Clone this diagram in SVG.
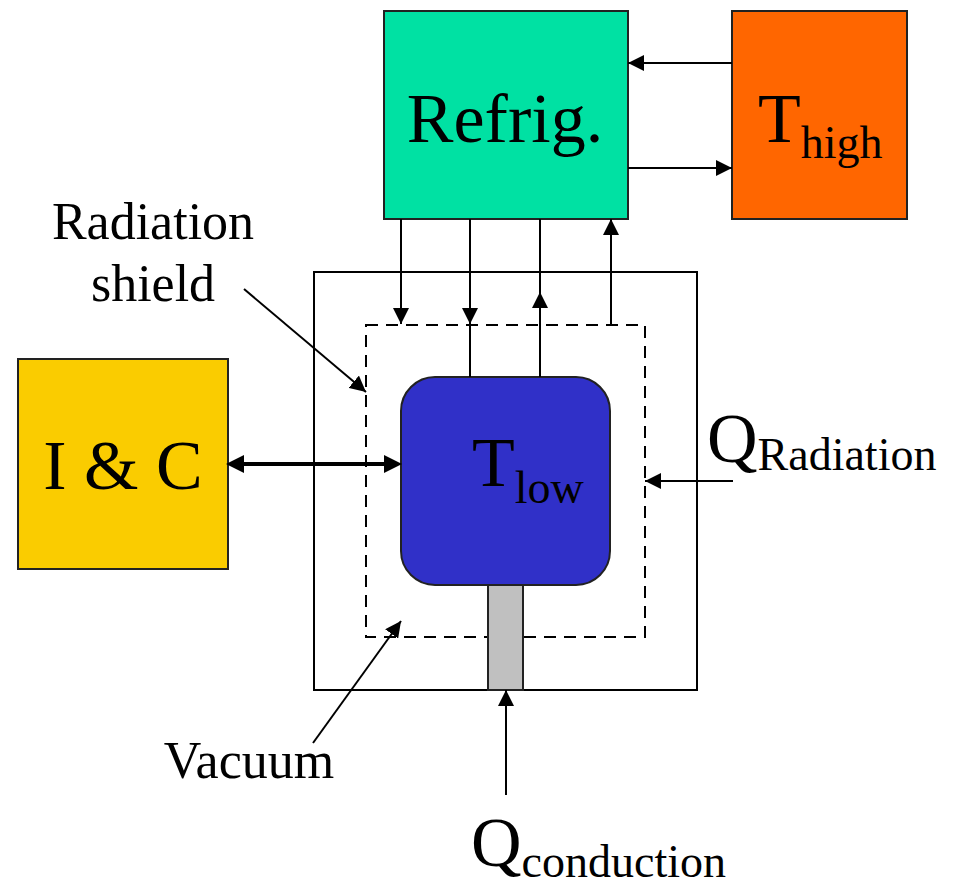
<svg xmlns="http://www.w3.org/2000/svg" width="957" height="889" viewBox="0 0 957 889">
<defs>
<style>
.box{stroke:#222;stroke-width:2}
.ln{stroke:#000;stroke-width:2;fill:none}
.big{font-family:"Liberation Serif","Times New Roman",serif;font-size:70px;fill:#000}
.lbl{font-family:"Liberation Serif","Times New Roman",serif;font-size:52px;fill:#000}
.sub{font-size:46px}
</style>
<marker id="ah" viewBox="0 0 16 16" refX="16" refY="8" markerWidth="16" markerHeight="16" markerUnits="userSpaceOnUse" orient="auto-start-reverse"><path d="M0,0 L16,8 L0,16 z" fill="#000"/></marker>
<marker id="ahb" viewBox="0 0 18 18" refX="8" refY="9" markerWidth="18" markerHeight="18" markerUnits="userSpaceOnUse" orient="auto-start-reverse"><path d="M0,0 L18,9 L0,18 z" fill="#000"/></marker>
</defs>
<rect width="957" height="889" fill="#fff"/>

<g id="vacuum-vessel">
<rect x="314" y="272" width="383" height="418" fill="none" stroke="#000" stroke-width="2"/>
</g>
<g id="radiation-shield">
<rect x="366" y="325" width="279" height="312" fill="none" stroke="#000" stroke-width="2" stroke-dasharray="12,8"/>
</g>

<g id="refrig">
<rect class="box" x="384" y="11" width="244" height="208" fill="#00E1A3"/>
<text class="big" x="505" y="142" text-anchor="middle">Refrig.</text>
</g>
<g id="thigh">
<rect class="box" x="732" y="11" width="175" height="208" fill="#FF6600"/>
<text class="big" x="758" y="142">T<tspan class="sub" dy="16">high</tspan></text>
</g>
<g id="ic">
<rect class="box" x="18" y="359" width="210" height="210" fill="#FACC00"/>
<text class="big" x="123" y="489" text-anchor="middle">I &amp; C</text>
</g>
<g id="tlow">
<rect x="488" y="584" width="35" height="106" fill="#C0C0C0" stroke="#222" stroke-width="2"/>
<rect class="box" x="401" y="377" width="209" height="208" rx="34" ry="34" fill="#3030C8"/>
<text class="big" x="472" y="486">T<tspan class="sub" dy="17">low</tspan></text>
</g>

<g id="connectors">
<line class="ln" x1="732" y1="63" x2="628" y2="63" marker-end="url(#ah)"/>
<line class="ln" x1="628" y1="168" x2="732" y2="168" marker-end="url(#ah)"/>
<line class="ln" x1="401" y1="219" x2="401" y2="324" marker-end="url(#ah)"/>
<line class="ln" x1="470" y1="219" x2="470" y2="324" marker-end="url(#ah)"/>
<line class="ln" x1="470" y1="320" x2="470" y2="377"/>
<line class="ln" x1="540" y1="377" x2="540" y2="292" marker-end="url(#ah)"/>
<line class="ln" x1="540" y1="296" x2="540" y2="219"/>
<line class="ln" x1="611" y1="325" x2="611" y2="219" marker-end="url(#ah)"/>
<line x1="236" y1="464" x2="392" y2="464" stroke="#000" stroke-width="4" marker-start="url(#ahb)" marker-end="url(#ahb)"/>
<line class="ln" x1="733" y1="481" x2="645" y2="481" marker-end="url(#ah)"/>
<line class="ln" x1="506" y1="795" x2="506" y2="690" marker-end="url(#ah)"/>
<line class="ln" x1="244" y1="289" x2="366" y2="392" marker-end="url(#ah)"/>
<line class="ln" x1="313" y1="743" x2="401" y2="621" marker-end="url(#ah)"/>
</g>

<g id="labels">
<text class="lbl" x="153" y="239" text-anchor="middle">Radiation</text>
<text class="lbl" x="153" y="301" text-anchor="middle">shield</text>
<text class="lbl" x="249" y="778" text-anchor="middle">Vacuum</text>
<text class="big" x="707" y="462">Q<tspan class="sub" dy="8">Radiation</tspan></text>
<text class="big" x="471" y="866">Q<tspan class="sub" dy="11">conduction</tspan></text>
</g>
</svg>
